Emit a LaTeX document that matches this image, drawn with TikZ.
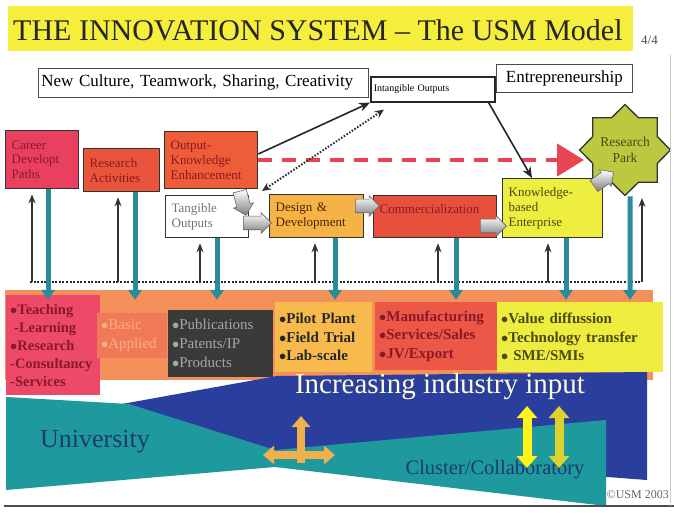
\documentclass[tikz,border=0pt]{standalone}
\usepackage{fontspec}
\setmainfont{Liberation Serif}
\usetikzlibrary{shapes.geometric,shapes.arrows,arrows.meta}
\definecolor{titley}{HTML}{F6EE3C}
\definecolor{crim}{HTML}{E8405E}
\definecolor{redor}{HTML}{E8553A}
\definecolor{okec}{HTML}{EE5C38}
\definecolor{gold}{HTML}{F5B245}
\definecolor{commc}{HTML}{E8503C}
\definecolor{kbec}{HTML}{EEEE40}
\definecolor{parkc}{HTML}{BCC840}
\definecolor{dashred}{HTML}{E84452}
\definecolor{tealar}{HTML}{2A8C9A}
\definecolor{bandc}{HTML}{F4905A}
\definecolor{pinkb}{HTML}{EC4A68}
\definecolor{basicc}{HTML}{F07A58}
\definecolor{darkb}{HTML}{3A3A3A}
\definecolor{pilotc}{HTML}{F8BA4C}
\definecolor{manuc}{HTML}{EC5848}
\definecolor{valyc}{HTML}{EEEC3E}
\definecolor{blueb}{HTML}{2A3E9E}
\definecolor{tealb}{HTML}{1E9A9E}
\definecolor{navyt}{HTML}{1C3A6E}
\definecolor{crossor}{HTML}{F2B04C}
\definecolor{redtxt}{HTML}{8A1828}
\definecolor{olivetxt}{HTML}{4A4A10}
\begin{document}
\begin{tikzpicture}[x=1pt,y=-1pt,
  sbox/.style={draw=black!80,line width=1.3pt,inner sep=6pt,align=left,anchor=north west,font=\fontsize{13}{15}\selectfont},
  bbox/.style={inner sep=4pt,align=left,anchor=north west,font=\bfseries\fontsize{15}{18.5}\selectfont},
  tbox/.style={draw=black!70,line width=0.8pt,fill=white,inner sep=3pt,anchor=north west,font=\fontsize{17}{17}\selectfont},
  uparr/.style={draw=black!80,line width=1.3pt,-{Stealth[length=9pt,width=7pt]}},
  tealarr/.style={draw=tealar,line width=5pt,-{Triangle[length=10pt,width=13pt]}},
  garr/.style={single arrow,draw=black!60,line width=0.6pt,top color=white,bottom color=black!50,single arrow head extend=3.5pt,inner sep=6.5pt,minimum height=#1},
]
\useasboundingbox (0,0) rectangle (674,518);
\fill[white] (0,0) rectangle (674,518);
% title
\fill[titley] (8,6) rectangle (633,51);
\node[anchor=west,font=\fontsize{30}{30}\selectfont,text=black!85,inner sep=0pt] (title) at (13,30) {THE INNOVATION SYSTEM \textendash{} The USM Model};
\node[anchor=west,font=\fontsize{13}{13}\selectfont,text=black!70,inner sep=0pt] (page) at (641,40) {4/4};
% top text boxes
\node[tbox,text width=324pt,minimum height=29pt] (nc) at (38,68) {New Culture, Teamwork, Sharing, Creativity};
\node[tbox,text width=130pt,minimum height=28pt,align=center] (en) at (496,64) {Entrepreneurship};
\node[tbox,draw=black!85,line width=1.6pt,text width=118pt,minimum height=25pt,font=\fontsize{10}{10}\selectfont] (io) at (370,76) {Intangible Outputs};
% process boxes
\node[sbox,fill=crim,text=redtxt,text width=61pt,minimum height=58pt,font=\fontsize{13}{14.5}\selectfont] (cdp) at (5,130) {Career\\Developt\\Paths};
\node[sbox,fill=redor,text=redtxt,text width=64pt,minimum height=43pt] (ra) at (83,148) {Research\\Activities};
\node[sbox,fill=okec,text=redtxt,text width=81pt,minimum height=57pt] (oke) at (164,131) {Output-\\Knowledge\\Enhancement};
\node[sbox,fill=white,text=black!55,text width=71pt,minimum height=42pt] (to) at (165,195) {Tangible\\Outputs};
\node[sbox,fill=gold,text=black!70!orange,text width=82pt,minimum height=43pt] (dd) at (269,194) {Design \&\\Development};
\node[sbox,fill=commc,text=redtxt,text width=111pt,minimum height=42pt] (cm) at (373,195) {Commercialization\\\mbox{}};
\node[sbox,fill=kbec,text=olivetxt,text width=88pt,minimum height=59pt] (kbe) at (502,178) {Knowledge-\\based\\Enterprise};
\node[star,star points=8,star point ratio=1.3,minimum size=90pt,draw=black!80,line width=1.3pt,fill=parkc,align=center,font=\fontsize{13.5}{16}\selectfont,text=olivetxt,inner sep=0pt] (park) at (625,150) {Research\\Park};
% connectors in upper part
\coordinate (rdstart) at (258,160);
\coordinate (rdend) at (584,160);
\draw[dashred,line width=4.5pt,dash pattern=on 14pt off 10pt,-{Triangle[length=27pt,width=32pt]}] (rdstart) -- (rdend);
\draw[black!85,line width=1.6pt,-{Stealth[length=11pt,width=9pt]}] ([yshift=-23pt]oke.north east) -- (io.south west);
\draw[black!80,line width=2pt,dash pattern=on 1.6pt off 1.6pt,{Stealth[length=9pt,width=8pt]}-{Stealth[length=9pt,width=8pt]}] ([xshift=-7pt,yshift=3pt]dd.north west) -- ([xshift=14pt,yshift=-7pt]io.south west);
\draw[black!85,line width=1.6pt,-{Stealth[length=11pt,width=9pt]}] ([xshift=-7pt]io.south east) -- ([xshift=30pt]kbe.north west);
% gray block arrows
\node[garr=25pt,rotate=-75] (g0) at (242,200) {};
\node[garr=28pt] (g1) at (254,223) {};
\node[garr=24pt] (g2) at (364,206) {};
\node[garr=26pt] (g3) at (490,226) {};
\node[garr=24pt,rotate=35] (g4) at (601,181) {};
% bottom band and shapes
\fill[bandc] (5,290) rectangle (653,380);
\fill[blueb] (122,404) -- (277,376) -- (647,372) -- (647,480) -- (275,452) -- cycle;
\fill[tealb] (6,397) -- (129,404) -- (275,450) -- (606,420) -- (606,506) -- (275,467) -- (6,490) -- cycle;
% bottom boxes
\node[bbox,fill=pinkb,text=redtxt,text width=86pt,minimum height=100pt,font=\bfseries\fontsize{14.5}{18}\selectfont] (tl) at (6,295) {$\bullet$Teaching\\\hspace*{4pt}-Learning\\$\bullet$Research\\-Consultancy\\-Services};
\node[bbox,fill=basicc,text=pink!70!orange,text width=62pt,minimum height=45pt,font=\fontsize{15}{19}\selectfont] (ba) at (97,313) {$\bullet$Basic\\$\bullet$Applied};
\node[bbox,fill=darkb,text=black!35,text width=97pt,minimum height=67pt,font=\fontsize{15}{19}\selectfont] (pu) at (168,310) {$\bullet$Publications\\$\bullet$Patents/IP\\$\bullet$Products};
\node[bbox,fill=pilotc,text=black!85,text width=89pt,minimum height=70pt] (pp) at (275,302) {$\bullet$Pilot Plant\\$\bullet$Field Trial\\$\bullet$Lab-scale};
\node[bbox,fill=manuc,text=redtxt,text width=114pt,minimum height=68pt] (mf) at (375,302) {$\bullet$Manufacturing\\$\bullet$Services/Sales\\$\bullet$JV/Export};
\node[bbox,fill=valyc,text=olivetxt,text width=158pt,minimum height=70pt] (vd) at (497,302) {$\bullet$Value diffussion\\$\bullet$Technology transfer\\$\bullet$ SME/SMIs};
% bottom texts
\node[font=\fontsize{29}{29}\selectfont,text=black!10!yellow!15!white,inner sep=0pt] (inc) at (440,387) {Increasing industry input};
\node[font=\fontsize{26}{26}\selectfont,text=navyt,inner sep=0pt] (uni) at (95,442) {University};
\node[font=\fontsize{20.5}{20.5}\selectfont,text=navyt,inner sep=0pt] (clu) at (495,470) {Cluster/Collaboratory};
\node[font=\fontsize{12}{12}\selectfont,text=black!60,inner sep=0pt,anchor=east] (cp) at (669,495) {\textcopyright USM 2003};
% bottom arrows
\coordinate (cu) at (301,463);
\coordinate (cut) at (301,416);
\coordinate (cl) at (263,455);
\coordinate (cr) at (335,455);
\draw[crossor,line width=8pt,-{Triangle[length=11pt,width=18pt]}] (cu) -- (cut);
\draw[crossor,line width=8pt,{Triangle[length=11pt,width=18pt]}-{Triangle[length=11pt,width=18pt]}] (cl) -- (cr);
\coordinate (ya1) at (527,406);
\coordinate (ya2) at (527,468);
\coordinate (yb1) at (559,406);
\coordinate (yb2) at (559,468);
\draw[yellow!90!white,line width=9pt,{Triangle[length=12pt,width=20pt]}-{Triangle[length=12pt,width=20pt]}] (ya1) -- (ya2);
\draw[yellow!60!olive!80!white,line width=9pt,{Triangle[length=12pt,width=20pt]}-{Triangle[length=12pt,width=20pt]}] (yb1) -- (yb2);
% dotted line and vertical arrows
\coordinate (d0) at (30,282);
\coordinate (d1) at (641,282);
\draw[black!85,line width=2.2pt,dash pattern=on 2pt off 1.6pt] (d0) -- (d1);
\foreach \x/\n in {32/cdp,118/ra,200/to,315/dd,438/cm,548/kbe}{
  \coordinate (u\n) at (\x,282);
  \draw[uparr,shorten >=5pt] (u\n) -- (\n.south -| u\n);
}
\coordinate (upark) at (642,282);
\coordinate (uparkt) at (642,198);
\draw[uparr] (upark) -- (uparkt);
\foreach \x/\n in {48/cdp,135/ra,217/to,335/dd,456/cm,566/kbe}{
  \coordinate (t\n) at (\x,300);
  \draw[tealarr] (\n.south -| t\n) -- (t\n);
}
\coordinate (tpark) at (630,300);
\draw[tealarr] ([xshift=5pt]park.south) -- (tpark);
% frame lines
\draw[black!70,line width=1.5pt] (4,506) -- (674,506);
\draw[black!20,line width=0.8pt] (670,55) -- (670,506);
\end{tikzpicture}
\end{document}
